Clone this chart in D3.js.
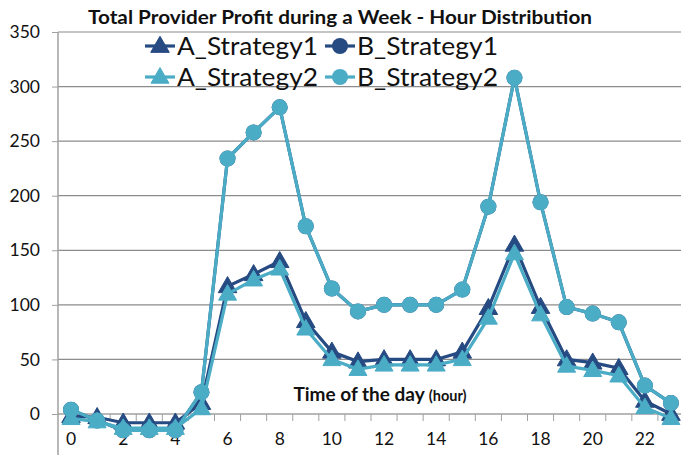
<!DOCTYPE html>
<html><head><meta charset="utf-8">
<script src="https://cdn.jsdelivr.net/npm/d3@7"></script>
<style>body{margin:0;background:#fff}svg{display:block}</style>
</head><body>
<script>
const hours = d3.range(0,24);
const xTickLabels = [0,2,4,6,8,10,12,14,16,18,20,22];
const yTicks = [0,50,100,150,200,250,300,350];
const seriesNames = ["A_Strategy1","B_Strategy1","A_Strategy2","B_Strategy2"];
const aStrategy1 = [-2,-3,-8,-8,-8,10,117,128,140,85,57,48,50,50,50,57,97,155,98,50,47,42,12,0];
const bStrategy1 = [4,-6,-15,-15,-15,20,234,258,281,172,115,94,100,100,100,114,190,308,194,98,92,84,26,10];
const aStrategy2 = [-4,-7,-13,-13,-13,5,110,123,133,78,50,41,45,45,45,50,88,147,91,44,40,35,6,-4];
const bStrategy2 = [4,-6,-15,-15,-15,20,234,258,281,172,115,94,100,100,100,114,190,308,194,98,92,84,26,10];

const W=681,H=455;
const DARK="#264a82", LIGHT="#4bacc6";
const svg=d3.select("body").append("svg").attr("width",W).attr("height",H);
const x=d3.scaleBand().domain(hours).range([58,684]);
const y=d3.scaleLinear().domain([0,350]).range([414,32]);
const cx=h=>x(h)+x.bandwidth()/2;
const FONT="Lato, 'Open Sans', sans-serif";

// gridlines
svg.append("g").selectAll("line").data(yTicks.filter(v=>v>0)).join("line")
 .attr("x1",58).attr("x2",W).attr("y1",d=>y(d)).attr("y2",d=>y(d))
 .attr("stroke","#8c8c8c").attr("stroke-width",1.2);
// y axis
const ya=svg.append("g").attr("transform","translate(58,0)")
 .call(d3.axisLeft(y).tickValues(yTicks).tickSize(6).tickPadding(12));
ya.select(".domain").remove();
ya.append("line").attr("x1",0).attr("x2",0).attr("y1",y(350)).attr("y2",H).attr("stroke","#a0a0a0").attr("stroke-width",1.5);
ya.selectAll(".tick line").attr("stroke","#a0a0a0");
ya.selectAll(".tick text").attr("font-family",FONT).attr("font-size",17.5).attr("fill","#111");

// x axis at zero
const xa=svg.append("g").attr("transform",`translate(0,${y(0)})`);
xa.append("line").attr("x1",58).attr("x2",W).attr("stroke","#a0a0a0").attr("stroke-width",1.5);
xa.selectAll("line.t").data(hours.slice(1)).join("line").attr("class","t")
 .attr("x1",d=>x(d)).attr("x2",d=>x(d)).attr("y1",0).attr("y2",7).attr("stroke","#a0a0a0");
xa.selectAll("text").data(xTickLabels).join("text")
 .attr("x",d=>cx(d)).attr("y",31).attr("text-anchor","middle")
 .attr("font-family",FONT).attr("font-size",17.5).attr("fill","#111").text(d=>d);

// axis title
const at=svg.append("text").attr("x",380).attr("y",401).attr("text-anchor","middle")
 .attr("font-family",FONT).attr("font-weight","bold").attr("fill","#111");
at.append("tspan").attr("font-size",19).text("Time of the day ");
at.append("tspan").attr("font-size",14.5).text("(hour)");

// title
svg.append("text").attr("x",340).attr("y",24).attr("text-anchor","middle")
 .attr("font-family",FONT).attr("font-weight","bold").attr("font-size",18).attr("fill","#111")
 .attr("textLength",504).attr("lengthAdjust","spacingAndGlyphs")
 .text("Total Provider Profit during a Week - Hour Distribution");

const tri=d3.symbol().type(d3.symbolTriangle);
const series=[
 {name:seriesNames[0],vals:aStrategy1,color:DARK,shape:"tri"},
 {name:seriesNames[1],vals:bStrategy1,color:DARK,shape:"circ"},
 {name:seriesNames[2],vals:aStrategy2,color:LIGHT,shape:"tri"},
 {name:seriesNames[3],vals:bStrategy2,color:LIGHT,shape:"circ"}
];
const line=d3.line().x((d,i)=>cx(i)).y(d=>y(d));
function marker(g,s,px,py){
 if(s.shape==="tri") g.append("path").attr("d",tri.size(s.color===DARK?150:140)()).attr("transform",`translate(${px},${py+1})`).attr("fill",s.color).attr("stroke",s.color).attr("stroke-width",1);
 else g.append("circle").attr("cx",px).attr("cy",py).attr("r",8).attr("fill",s.color);
}
series.forEach(s=>{
 const g=svg.append("g");
 g.append("path").datum(s.vals).attr("d",line).attr("fill","none").attr("stroke",s.color).attr("stroke-width",3.2);
 s.vals.forEach((v,i)=>marker(g,s,cx(i),y(v)));
});

// legend
const legPos=[[145,46],[325,46],[145,77],[325,77]];
series.forEach((s,i)=>{
 const [lx,ly]=legPos[i];
 const g=svg.append("g");
 g.append("line").attr("x1",lx).attr("x2",lx+30).attr("y1",ly).attr("y2",ly).attr("stroke",s.color).attr("stroke-width",3.2);
 marker(g,s,lx+15,ly);
 g.append("text").attr("x",lx+32).attr("y",ly+9).attr("font-family",FONT).attr("font-size",25).attr("fill","#111")
  .attr("textLength",141).attr("lengthAdjust","spacingAndGlyphs").text(s.name);
});
</script>
</body></html>
